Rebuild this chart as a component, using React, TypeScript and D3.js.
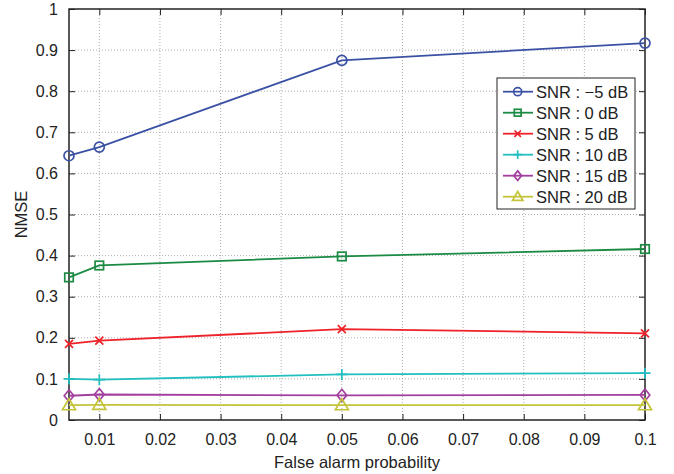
import React, { useRef, useEffect } from 'react';
import * as d3 from 'd3';

// false alarm probabilities on the x axis
const pfa = [0.005, 0.01, 0.05, 0.1];
const xTicks = [0.01, 0.02, 0.03, 0.04, 0.05, 0.06, 0.07, 0.08, 0.09, 0.1];
const yTicks = [0, 0.1, 0.2, 0.3, 0.4, 0.5, 0.6, 0.7, 0.8, 0.9, 1];

const snrM5 = [0.643, 0.664, 0.875, 0.917];
const snr0 = [0.347, 0.376, 0.398, 0.416];
const snr5 = [0.185, 0.193, 0.221, 0.211];
const snr10 = [0.1, 0.098, 0.111, 0.114];
const snr15 = [0.059, 0.062, 0.06, 0.061];
const snr20 = [0.036, 0.037, 0.036, 0.036];

const labels = ['SNR : \u22125 dB', 'SNR : 0 dB', 'SNR : 5 dB', 'SNR : 10 dB', 'SNR : 15 dB', 'SNR : 20 dB'];
const colors = ['#3b52a4', '#1b8a42', '#ee2228', '#22bfc0', '#a23f9e', '#c3c43b'];
const markers = ['circle', 'square', 'x', 'plus', 'diamond', 'triangle'];

const App = () => {
  const svgRef = useRef<SVGSVGElement>(null);

  useEffect(() => {
    const svg = d3.select(svgRef.current);
    svg.selectAll('*').remove();
    const width = 674;
    const height = 474;
    const margin = { top: 9, right: 29, bottom: 54, left: 69 };
    const iw = width - margin.left - margin.right;
    const ih = height - margin.top - margin.bottom;
    const font = 'Helvetica, "Liberation Sans", Arial, sans-serif';

    const x = d3.scaleLinear().domain([0.005, 0.1]).range([0, iw]);
    const y = d3.scaleLinear().domain([0, 1]).range([ih, 0]);

    const g = svg.append('g').attr('transform', `translate(${margin.left},${margin.top})`);

    // grid
    g.selectAll('.vgrid').data(xTicks.slice(0, -1)).enter().append('line')
      .attr('x1', d => x(d)).attr('x2', d => x(d)).attr('y1', 0).attr('y2', ih)
      .attr('stroke', '#999').attr('stroke-width', 0.8).attr('stroke-dasharray', '1,2');
    g.selectAll('.hgrid').data(yTicks.slice(1, -1)).enter().append('line')
      .attr('y1', d => y(d)).attr('y2', d => y(d)).attr('x1', 0).attr('x2', iw)
      .attr('stroke', '#999').attr('stroke-width', 0.8).attr('stroke-dasharray', '1,2');

    // axes with inward ticks
    const styleAxis = (sel: any) => {
      sel.select('.domain').remove();
      sel.selectAll('line').attr('stroke', '#222').attr('stroke-width', 1);
      sel.selectAll('text').attr('font-family', font).attr('font-size', 16).attr('fill', '#222');
    };
    g.append('g').attr('transform', `translate(0,${ih})`)
      .call(d3.axisBottom(x).tickValues(xTicks).tickFormat(d3.format('')).tickSizeInner(-6).tickPadding(14))
      .call(styleAxis);
    g.append('g')
      .call(d3.axisLeft(y).tickValues(yTicks).tickFormat(d3.format('')).tickSizeInner(-6).tickPadding(11))
      .call(styleAxis);
    g.append('g')
      .call(d3.axisTop(x).tickValues(xTicks).tickSizeInner(-6).tickFormat(() => ''))
      .call(styleAxis);
    g.append('g').attr('transform', `translate(${iw},0)`)
      .call(d3.axisRight(y).tickValues(yTicks).tickSizeInner(-6).tickFormat(() => ''))
      .call(styleAxis);
    g.append('rect').attr('width', iw).attr('height', ih)
      .attr('fill', 'none').attr('stroke', '#222').attr('stroke-width', 1.5);

    const series = [snrM5, snr0, snr5, snr10, snr15, snr20];
    const line = d3.line<number>().x((_, i) => x(pfa[i])).y(d => y(d));

    const drawMarker = (sel: any, type: string, color: string, cx: number, cy: number, s: number) => {
      const common = (e: any) => e.attr('fill', 'none').attr('stroke', color).attr('stroke-width', 1.7);
      if (type === 'circle') common(sel.append('circle').attr('cx', cx).attr('cy', cy).attr('r', s));
      else if (type === 'square') common(sel.append('rect').attr('x', cx - s * 0.85).attr('y', cy - s * 0.85).attr('width', s * 1.7).attr('height', s * 1.7));
      else if (type === 'x') {
        const r = s * 0.8;
        common(sel.append('path').attr('d', `M${cx - r},${cy - r}L${cx + r},${cy + r}M${cx - r},${cy + r}L${cx + r},${cy - r}`));
      } else if (type === 'plus') {
        const r = s * 1.1;
        common(sel.append('path').attr('d', `M${cx - r},${cy}L${cx + r},${cy}M${cx},${cy - r}L${cx},${cy + r}`));
      } else if (type === 'diamond') {
        const r = s * 1.2;
        common(sel.append('path').attr('d', `M${cx},${cy - r}L${cx + r * 0.8},${cy}L${cx},${cy + r}L${cx - r * 0.8},${cy}Z`));
      } else {
        const r = s * 1.3;
        common(sel.append('path').attr('d', `M${cx},${cy - r}L${cx + r},${cy + r * 0.7}L${cx - r},${cy + r * 0.7}Z`));
      }
    };

    series.forEach((vals, k) => {
      g.append('path').datum(vals).attr('d', line)
        .attr('fill', 'none').attr('stroke', colors[k]).attr('stroke-width', 1.8);
      vals.forEach((v, i) => drawMarker(g, markers[k], colors[k], x(pfa[i]), y(v), 5));
    });

    // legend
    const lg = svg.append('g').attr('transform', 'translate(497,78)');
    lg.append('rect').attr('width', 138).attr('height', 131)
      .attr('fill', '#fff').attr('stroke', '#222').attr('stroke-width', 1);
    labels.forEach((lab, k) => {
      const cy = 13.7 + k * 21;
      lg.append('line').attr('x1', 6).attr('x2', 36).attr('y1', cy).attr('y2', cy)
        .attr('stroke', colors[k]).attr('stroke-width', 1.8);
      drawMarker(lg, markers[k], colors[k], 20.7, cy, 4);
      lg.append('text').attr('x', 39).attr('y', cy + 6).text(lab)
        .attr('font-family', font).attr('font-size', 16.5).attr('fill', '#222');
    });

    // axis labels
    svg.append('text').attr('x', margin.left + iw / 2).attr('y', 468)
      .attr('text-anchor', 'middle').attr('font-family', font).attr('font-size', 16.5).attr('fill', '#222')
      .text('False alarm probability');
    svg.append('text').attr('transform', `translate(27,${margin.top + ih / 2}) rotate(-90)`)
      .attr('text-anchor', 'middle').attr('font-family', font).attr('font-size', 16.5).attr('fill', '#222')
      .text('NMSE');
  }, []);

  return (
    <svg ref={svgRef} width={674} height={474} style={{ position: 'absolute', left: 0, top: 0, background: '#fff' }}></svg>
  );
};

export default App;
